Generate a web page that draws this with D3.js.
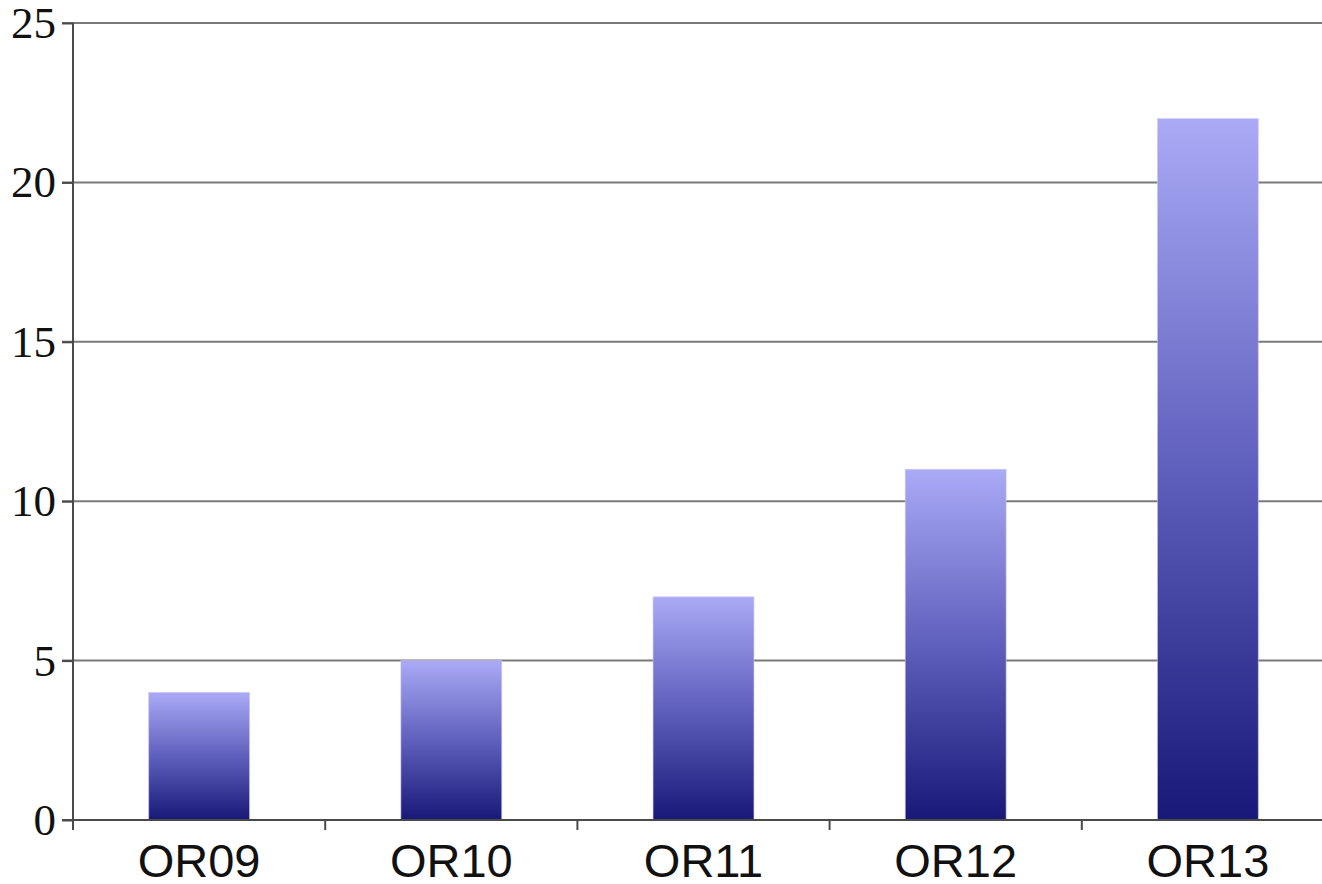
<!DOCTYPE html>
<html><head><meta charset="utf-8">
<script src="https://cdn.jsdelivr.net/npm/d3@7/dist/d3.min.js"></script>
<style>html,body{margin:0;padding:0;background:#fff;overflow:hidden}</style>
</head><body>
<svg id="chart" width="1322" height="884"></svg>
<script>
const categories = ["OR09","OR10","OR11","OR12","OR13"];
const values = [4,5,7,11,22];
const yTicks = [0,5,10,15,20,25];

const svg = d3.select("#chart");
const x = d3.scaleBand().domain(categories).range([73,1334]).paddingInner(0.6).paddingOuter(0.3);
const y = d3.scaleLinear().domain([0,25]).range([820,23]);

const defs = svg.append("defs");
const g = defs.append("linearGradient").attr("id","barGrad").attr("x1",0).attr("y1",0).attr("x2",0).attr("y2",1);
g.append("stop").attr("offset","0%").attr("stop-color","#aaaaf6");
g.append("stop").attr("offset","50%").attr("stop-color","#5f5fbd");
g.append("stop").attr("offset","100%").attr("stop-color","#181878");

// gridlines
svg.append("g").selectAll("line").data(yTicks.filter(d=>d>0)).join("line")
  .attr("x1",62).attr("x2",1322).attr("y1",d=>y(d)).attr("y2",d=>y(d))
  .attr("stroke","#7a7a7a").attr("stroke-width",2);

// bars
svg.append("g").selectAll("rect").data(values).join("rect")
  .attr("x",(d,i)=>x(categories[i])).attr("width",x.bandwidth())
  .attr("y",d=>y(d)).attr("height",d=>y(0)-y(d))
  .attr("fill","url(#barGrad)").attr("stroke","#c8c8f4").attr("stroke-width",1).attr("stroke-opacity",0.6);

// y axis
const yAxis = d3.axisLeft(y).tickValues(yTicks).tickSize(11).tickPadding(6).tickFormat(d3.format("d"));
const ya = svg.append("g").attr("transform","translate(73,0)").call(yAxis);
ya.select(".domain").attr("stroke","#4a4a4a").attr("stroke-width",2).attr("d","M0,23V820");
ya.selectAll(".tick line").attr("stroke","#4a4a4a").attr("stroke-width",2);
ya.selectAll(".tick text").attr("font-family","'Liberation Serif', 'Times New Roman', serif").attr("font-size",45).attr("fill","#111");

// x axis
const xa = svg.append("g").attr("transform","translate(0,820)");
xa.append("line").attr("x1",62).attr("x2",1322).attr("y1",0).attr("y2",0).attr("stroke","#4a4a4a").attr("stroke-width",2);
const bounds = categories.map(c=>x(c)-x.step()*x.paddingInner()/2 - (c===categories[0]? x.step()*(x.paddingOuter()-x.paddingInner()/2):0));
xa.selectAll("line.tk").data(categories).join("line").attr("class","tk")
  .attr("x1",(c,i)=> i===0 ? 73 : x(c) - x.step()*x.paddingInner()/2)
  .attr("x2",(c,i)=> i===0 ? 73 : x(c) - x.step()*x.paddingInner()/2)
  .attr("y1",0).attr("y2",10).attr("stroke","#4a4a4a").attr("stroke-width",2);
xa.selectAll("text").data(categories).join("text")
  .attr("x",c=>x(c)+x.bandwidth()/2).attr("y",57)
  .attr("text-anchor","middle")
  .attr("font-family","'Liberation Sans', Arial, sans-serif").attr("font-size",47).attr("fill","#111")
  .text(c=>c);
</script>
</body></html>
